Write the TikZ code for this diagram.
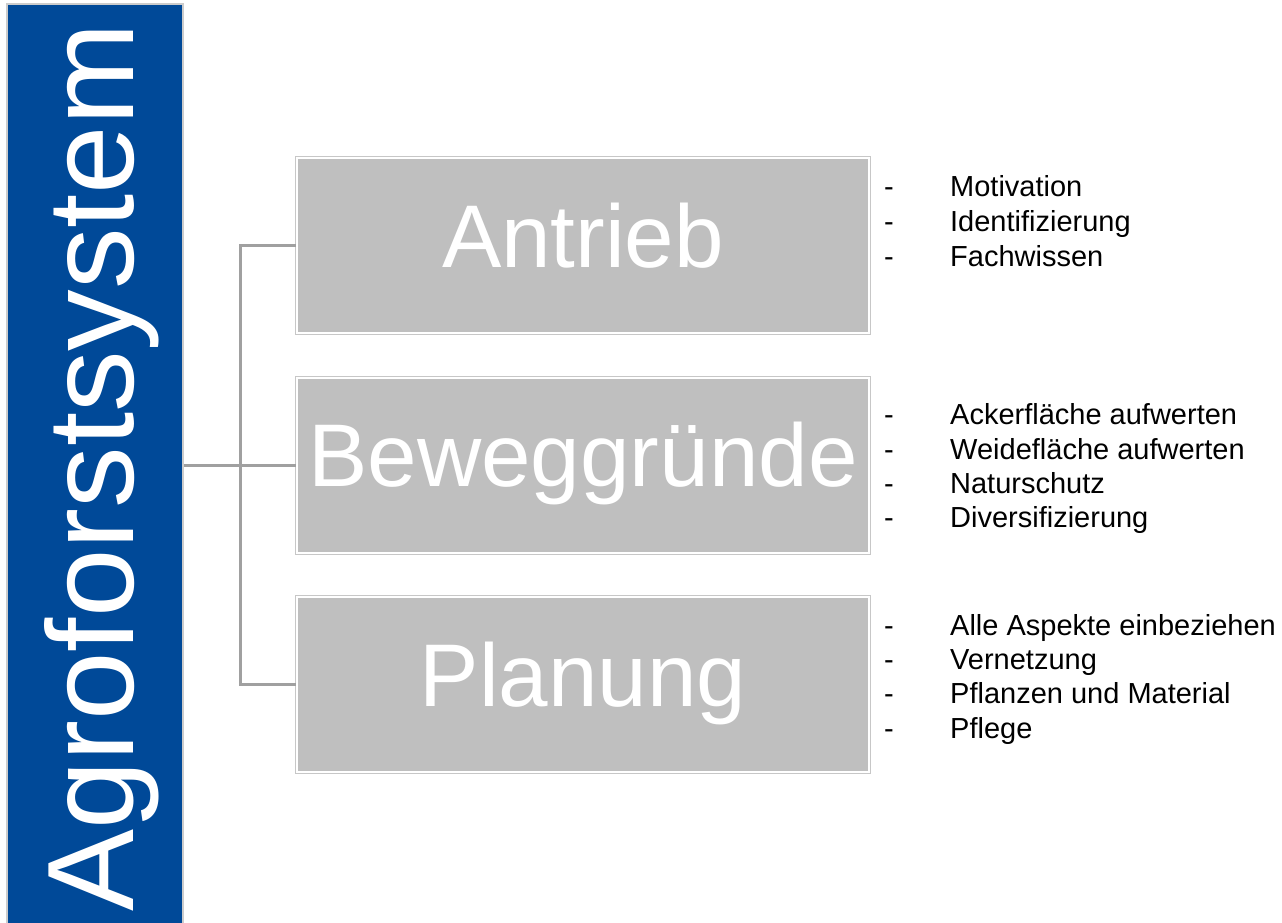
\documentclass[tikz,border=0pt]{standalone}
\usepackage{fontspec}
\setmainfont{Liberation Sans}
\definecolor{agroblue}{RGB}{0,73,152}
\definecolor{tilegray}{RGB}{191,191,191}
\definecolor{linkgray}{RGB}{160,160,160}
\tikzset{
  tile/.style={rectangle, fill=tilegray, draw=white, line width=2pt,
    preaction={draw=black!22, line width=4pt},
    minimum width=572pt, minimum height=175pt, inner sep=0pt,
    text=white, font=\fontsize{89}{92}\selectfont,
    text height=62pt, text depth=19pt},
  item/.style={anchor=base west, inner sep=0pt, font=\fontsize{29}{34}\selectfont},
  link/.style={draw=linkgray, line width=3pt}
}
\newcommand{\dashitem}[1]{\makebox[66pt][l]{-}#1}

\begin{document}
\begin{tikzpicture}[x=1pt,y=-1pt]
\useasboundingbox (0,0) rectangle (1282,923);
% blue bar on the left
\node[rectangle, fill=agroblue, draw=black!20, line width=1.5pt,
  minimum width=176pt, minimum height=922pt, inner sep=0pt] (bar) at (95,465) {};
\node[rotate=90, anchor=base west, inner sep=0pt, text=white,
  font=\fontsize{123}{130}\selectfont] (title) at (133,912) {Agroforstsystem};
% boxes
\node[tile] (antrieb) at (583,245.5) {Antrieb};
\node[tile] (beweg) at (583,465) {Beweggründe};
\node[tile] (planung) at (583,684.5) {Planung};
% connectors
\coordinate (fork) at (240,465);
\draw[link] (bar.east |- beweg.west) -- (beweg.west);
\draw[link] (antrieb.west) -| (fork) |- (planung.west);
% lists
\node[item] (m1) at (884,196) {\dashitem{Motivation}};
\node[item] (m2) at (884,231) {\dashitem{Identifizierung}};
\node[item] (m3) at (884,266) {\dashitem{Fachwissen}};
\node[item] (b1) at (884,424) {\dashitem{Ackerfläche aufwerten}};
\node[item] (b2) at (884,459) {\dashitem{Weidefläche aufwerten}};
\node[item] (b3) at (884,493) {\dashitem{Naturschutz}};
\node[item] (b4) at (884,527) {\dashitem{Diversifizierung}};
\node[item] (p1) at (884,635) {\dashitem{Alle Aspekte einbeziehen}};
\node[item] (p2) at (884,669) {\dashitem{Vernetzung}};
\node[item] (p3) at (884,703) {\dashitem{Pflanzen und Material}};
\node[item] (p4) at (884,738) {\dashitem{Pflege}};
\end{tikzpicture}
\end{document}
